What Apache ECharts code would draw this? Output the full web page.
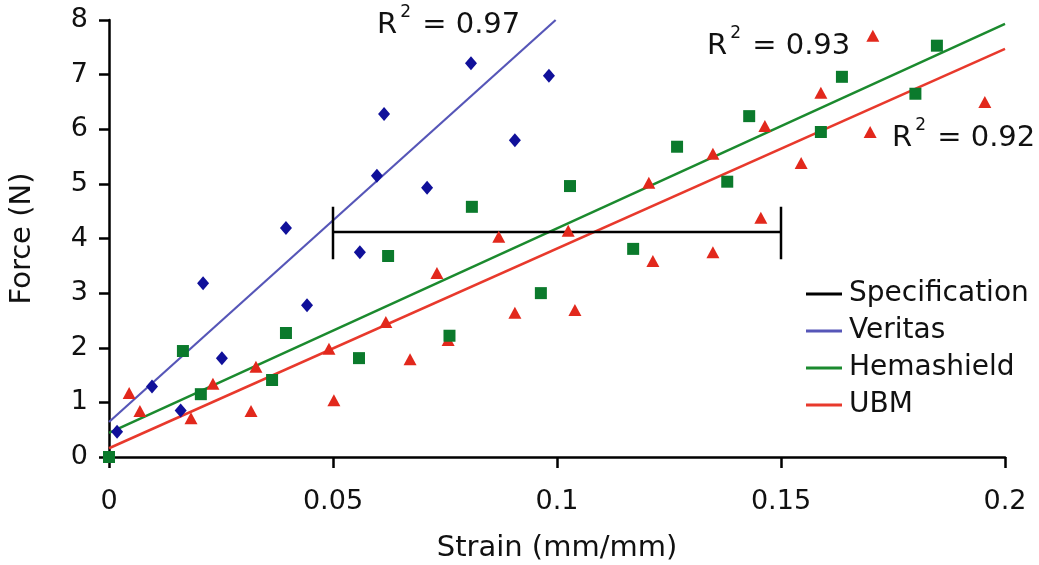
<!DOCTYPE html>
<html>
<head>
<meta charset="utf-8">
<style>
  html, body { margin: 0; padding: 0; background: #fff; }
  #chart { width: 1039px; height: 565px; }
</style>
<script src="https://cdn.jsdelivr.net/npm/echarts@6/dist/echarts.min.js"></script>
</head>
<body>
<div id="chart"></div>
<script>
// Measured force vs. strain for three graft materials
const veritasPoints = [
  [0.0018, 0.46], [0.0096, 1.29], [0.0160, 0.85], [0.0210, 3.18], [0.0252, 1.81],
  [0.0395, 4.19], [0.0442, 2.78], [0.0560, 3.75], [0.0598, 5.15], [0.0614, 6.28],
  [0.0710, 4.93], [0.0808, 7.21], [0.0906, 5.80], [0.0982, 6.98]
];
const hemashieldPoints = [
  [0, 0], [0.0165, 1.94], [0.0205, 1.15], [0.0364, 1.41], [0.0395, 2.27],
  [0.0558, 1.81], [0.0623, 3.68], [0.0760, 2.22], [0.0810, 4.58], [0.0964, 3.00],
  [0.1029, 4.96], [0.1170, 3.81], [0.1268, 5.68], [0.1380, 5.04], [0.1429, 6.24],
  [0.1589, 5.95], [0.1636, 6.96], [0.1800, 6.65], [0.1848, 7.53]
];
const ubmPoints = [
  [0.0045, 1.17], [0.0069, 0.84], [0.0183, 0.71], [0.0232, 1.34], [0.0317, 0.84],
  [0.0328, 1.65], [0.0491, 1.98], [0.0502, 1.04], [0.0618, 2.47], [0.0672, 1.79],
  [0.0732, 3.37], [0.0757, 2.14], [0.0870, 4.03], [0.0906, 2.64], [0.1025, 4.14],
  [0.1040, 2.69], [0.1205, 5.02], [0.1214, 3.59], [0.1348, 5.55], [0.1348, 3.75],
  [0.1455, 4.38], [0.1464, 6.06], [0.1545, 5.38], [0.1589, 6.67], [0.1699, 5.95],
  [0.1705, 7.71], [0.1955, 6.50]
];

// Linear trend lines (end points) and their R² values
const veritasFit = [[0, 0.64], [0.0997, 8]];
const hemashieldFit = [[0, 0.44], [0.2, 7.93]];
const ubmFit = [[0, 0.16], [0.2, 7.47]];
const rSquared = { veritas: '0.97', hemashield: '0.93', ubm: '0.92' };

// Specification window: strain range at the required force, with end caps
const specStrain = [0.05, 0.15];
const specForce = 4.12;
const specCap = [3.62, 4.58];
const specPath = [
  [specStrain[0], specCap[1]], [specStrain[0], specCap[0]], [specStrain[0], specForce],
  [specStrain[1], specForce], [specStrain[1], specCap[1]], [specStrain[1], specCap[0]]
];

const xTicks = { min: 0, max: 0.2, step: 0.05 };
const yTicks = { min: 0, max: 8, step: 1 };

const FONT = 'DejaVu Sans';
const colors = {
  spec: '#000000',
  veritasLine: '#5656b8', veritasMark: '#10109a',
  hemaLine: '#1b8a2e', hemaMark: '#0b7a2c',
  ubmLine: '#e8392c', ubmMark: '#e2281c'
};

const chart = echarts.init(document.getElementById('chart'), null, { renderer: 'canvas' });

function r2Label(value, x, y) {
  return {
    type: 'text', left: x, top: y, z: 10,
    style: {
      text: '{b|R}{s|2}{b| = ' + value + '}',
      rich: {
        b: { fontFamily: FONT, fontSize: 29, fill: '#111', verticalAlign: 'bottom', lineHeight: 36 },
        s: { fontFamily: FONT, fontSize: 17, fill: '#111', verticalAlign: 'top', lineHeight: 36, padding: [0, 2, 16, 3] }
      }
    }
  };
}

const option = {
  backgroundColor: '#fff',
  animation: false,
  grid: { left: 109, right: 34, top: 20, bottom: 108, containLabel: false, outerBoundsMode: 'none' },
  xAxis: {
    type: 'value', min: xTicks.min, max: xTicks.max, interval: xTicks.step,
    name: 'Strain (mm/mm)', nameLocation: 'middle', nameGap: 77,
    nameTextStyle: { fontFamily: FONT, fontSize: 29, color: '#111' },
    axisLine: { show: true, onZero: false, lineStyle: { color: '#000', width: 2.5 } },
    axisTick: { show: true, inside: false, length: 11, lineStyle: { color: '#000', width: 2.5 } },
    axisLabel: { fontFamily: FONT, fontSize: 27, color: '#111', margin: 31 },
    splitLine: { show: false }
  },
  yAxis: {
    type: 'value', min: yTicks.min, max: yTicks.max, interval: yTicks.step,
    name: 'Force (N)', nameLocation: 'middle', nameGap: 72, nameRotate: 90,
    nameTextStyle: { fontFamily: FONT, fontSize: 29, color: '#111' },
    axisLine: { show: true, onZero: false, lineStyle: { color: '#000', width: 2.5 } },
    axisTick: { show: true, inside: false, length: 10, lineStyle: { color: '#000', width: 2.5 } },
    axisLabel: { fontFamily: FONT, fontSize: 27, color: '#111', margin: 21 },
    splitLine: { show: false }
  },
  legend: {
    orient: 'vertical', left: 801, top: 275,
    itemWidth: 36, itemHeight: 3, itemGap: 9,
    icon: 'rect',
    textStyle: { fontFamily: FONT, fontSize: 28, lineHeight: 28, color: '#111', padding: [0, 0, 0, 2] },
    data: ['Specification', 'Veritas', 'Hemashield', 'UBM']
  },
  series: [
    {
      name: 'Specification', type: 'line', data: specPath, symbol: 'none',
      lineStyle: { color: colors.spec, width: 2.5 }, itemStyle: { color: colors.spec }, z: 3
    },
    {
      name: 'Veritas', type: 'line', data: veritasFit, symbol: 'none',
      lineStyle: { color: colors.veritasLine, width: 2.2 }, itemStyle: { color: colors.veritasLine }, z: 2
    },
    {
      name: 'Hemashield', type: 'line', data: hemashieldFit, symbol: 'none',
      lineStyle: { color: colors.hemaLine, width: 2.5 }, itemStyle: { color: colors.hemaLine }, z: 2
    },
    {
      name: 'UBM', type: 'line', data: ubmFit, symbol: 'none',
      lineStyle: { color: colors.ubmLine, width: 2.5 }, itemStyle: { color: colors.ubmLine }, z: 2
    },
    {
      name: 'Veritas data', type: 'scatter', data: veritasPoints,
      symbol: 'diamond', symbolSize: [12, 14], itemStyle: { color: colors.veritasMark, opacity: 1 }, z: 4
    },
    {
      name: 'UBM data', type: 'scatter', data: ubmPoints,
      symbol: 'triangle', symbolSize: [13, 12], itemStyle: { color: colors.ubmMark, opacity: 1 }, z: 4
    },
    {
      name: 'Hemashield data', type: 'scatter', data: hemashieldPoints,
      symbol: 'rect', symbolSize: 12, itemStyle: { color: colors.hemaMark, opacity: 1 }, z: 5
    }
  ],
  graphic: [
    r2Label(rSquared.veritas, 377, 4),
    r2Label(rSquared.hemashield, 707, 25),
    r2Label(rSquared.ubm, 892, 117)
  ]
};

chart.setOption(option);
</script>
</body>
</html>
